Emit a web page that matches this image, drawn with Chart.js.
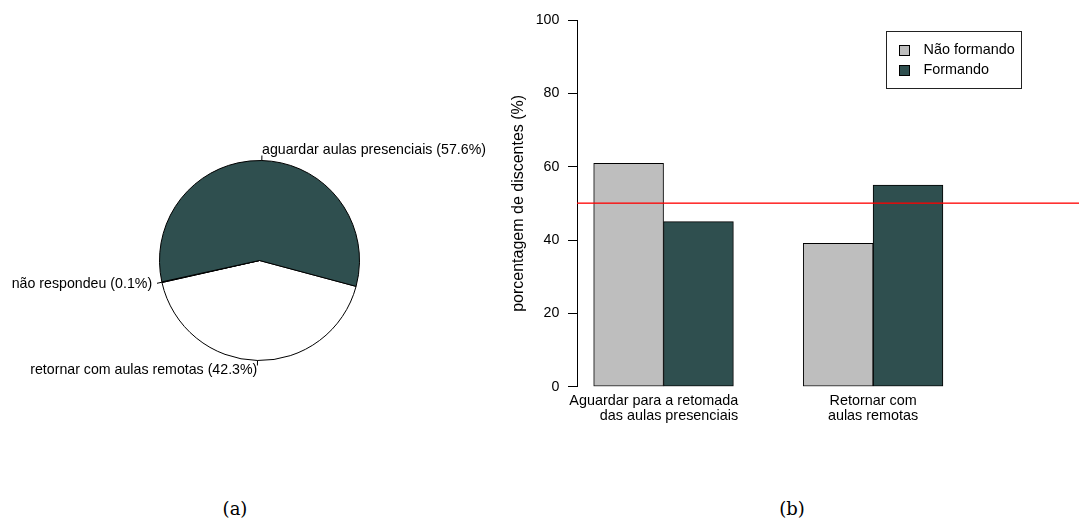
<!DOCTYPE html>
<html lang="pt">
<head>
    <meta charset="UTF-8">
    <title>Retomada das aulas</title>
    <script src="https://cdn.jsdelivr.net/npm/chart.js"></script>
    <style>
        body {
            margin: 0;
            width: 1079px;
            height: 521px;
            position: relative;
            overflow: hidden;
            background: #fff;
            font-family: "Liberation Sans", Arial, sans-serif;
        }
        #pie-box { position: absolute; left: 0; top: 100px; width: 519px; height: 321px; }
        #bar-box { position: absolute; left: 500px; top: 0; width: 579px; height: 440px; }
        .caption {
            position: absolute;
            top: 500px;
            font-family: "DejaVu Serif", serif;
            font-size: 18px;
            line-height: 18px;
            transform: translateX(-50%);
        }
    </style>
</head>
<body>
    <div id="pie-box"><canvas id="pieChart"></canvas></div>
    <div id="bar-box"><canvas id="barChart"></canvas></div>
    <div class="caption" style="left:235px">(a)</div>
    <div class="caption" style="left:792px">(b)</div>

    <script>
        // (a) pie data, in the order R draws it (counter-clockwise)
        const pieLabels = ['aguardar aulas presenciais', 'não respondeu', 'retornar com aulas remotas'];
        const pieValues = [57.6, 0.1, 42.3];
        const pieColors = ['#2f4f4f', '#1a1a1a', '#ffffff'];

        // (b) grouped bars
        const groupLabels = [['Aguardar para a retomada', 'das aulas presenciais'], ['Retornar com', 'aulas remotas']];
        const seriesNames = ['Não formando', 'Formando'];
        const naoFormando = [60.9, 39.1];
        const formando = [45.0, 55.0];
        const seriesColors = ['#bebebe', '#2f4f4f'];
        const yTicks = [0, 20, 40, 60, 80, 100];
        const refLine = 50;

        const FONT = '"Liberation Sans", Arial, sans-serif';
        Chart.defaults.font.family = FONT;
        Chart.defaults.color = '#000';

        // ---------- pie ----------
        // Chart.js goes clockwise, R goes counter-clockwise: reverse the order
        const pieLabelPlugin = {
            id: 'pieLabels',
            afterDatasetsDraw(chart) {
                const ctx = chart.ctx;
                const meta = chart.getDatasetMeta(0);
                const labels = chart.data.labels;
                const values = chart.data.datasets[0].data;
                ctx.save();
                ctx.font = '14.2px ' + FONT;
                ctx.fillStyle = '#000';
                ctx.strokeStyle = '#000';
                ctx.lineWidth = 1;
                ctx.textBaseline = 'middle';
                meta.data.forEach((arc, i) => {
                    const p = arc.getProps(['x', 'y', 'startAngle', 'endAngle', 'outerRadius'], true);
                    const a = (p.startAngle + p.endAngle) / 2;
                    const c = Math.cos(a), s = Math.sin(a), r = p.outerRadius;
                    ctx.beginPath();
                    ctx.moveTo(p.x + r * c, p.y + r * s);
                    ctx.lineTo(p.x + 1.05 * r * c, p.y + 1.05 * r * s);
                    ctx.stroke();
                    ctx.textAlign = c < 0 ? 'right' : 'left';
                    ctx.fillText(labels[i] + ' (' + values[i].toFixed(1) + '%)', p.x + 1.1 * r * c, p.y + 1.1 * r * s);
                });
                ctx.restore();
            }
        };

        new Chart(document.getElementById('pieChart'), {
            type: 'pie',
            data: {
                labels: pieLabels.slice().reverse(),
                datasets: [{
                    data: pieValues.slice().reverse(),
                    backgroundColor: pieColors.slice().reverse(),
                    borderColor: '#000',
                    borderWidth: 1
                }]
            },
            options: {
                responsive: true,
                maintainAspectRatio: false,
                animation: false,
                events: [],
                rotation: 105,
                radius: 100,
                layout: { padding: { top: 60, bottom: 60 } },
                plugins: { legend: { display: false }, tooltip: { enabled: false } }
            },
            plugins: [pieLabelPlugin]
        });

        // ---------- bars ----------
        // barplot(beside=TRUE) slots: one empty unit before each group
        const slot = (g, j) => 1.5 + g * (seriesNames.length + 1) + j;
        const seriesValues = [naoFormando, formando];
        const slotTicks = [];
        naoFormando.forEach((v, g) => seriesNames.forEach((n, j) => slotTicks.push(slot(g, j))));

        const barExtras = {
            id: 'barExtras',
            afterDatasetsDraw(chart) {
                const ctx = chart.ctx;
                const area = chart.chartArea;
                const x = chart.scales.x, y = chart.scales.y;
                ctx.save();

                // reference line (abline h = 50)
                const yr = y.getPixelForValue(refLine);
                ctx.fillStyle = '#ff0000';
                ctx.fillRect(area.left, Math.round(yr) - 0.5, area.right - area.left, 1.3);

                // group labels
                ctx.font = '14.4px ' + FONT;
                ctx.fillStyle = '#000';
                ctx.textBaseline = 'alphabetic';
                const y0 = y.getPixelForValue(0);
                groupLabels.forEach((lines, g) => {
                    const cx = x.getPixelForValue(slot(g, 0) + 0.5);
                    if (g === 0) {
                        ctx.textAlign = 'right';
                        lines.forEach((t, k) => ctx.fillText(t, cx + 74.6, y0 + 17.8 + k * 15));
                    } else {
                        ctx.textAlign = 'center';
                        lines.forEach((t, k) => ctx.fillText(t, cx, y0 + 17.8 + k * 15));
                    }
                });

                // legend box
                const bw = 135, bh = 57;
                const bx = Math.round(area.right - 58.3 - bw) + 0.5;
                const by = Math.round(area.top + 10.7) + 0.5;
                ctx.lineWidth = 1;
                ctx.strokeStyle = '#222';
                ctx.strokeRect(bx, by, bw, bh);
                ctx.textAlign = 'left';
                ctx.textBaseline = 'middle';
                chart.data.datasets.forEach((ds, i) => {
                    const ry = by + 18.5 + i * 19.6;
                    const sy = Math.round(ry - 5) + 0.5;
                    ctx.fillStyle = ds.backgroundColor;
                    ctx.fillRect(bx + 13, sy, 10, 10);
                    ctx.strokeStyle = '#000';
                    ctx.strokeRect(bx + 13, sy, 10, 10);
                    ctx.fillStyle = '#000';
                    ctx.fillText(ds.label, bx + 37, ry);
                });
                ctx.restore();
            }
        };

        new Chart(document.getElementById('barChart'), {
            type: 'bar',
            data: {
                datasets: seriesNames.map((name, j) => ({
                    label: name,
                    data: seriesValues[j].map((v, g) => ({ x: slot(g, j), y: v })),
                    backgroundColor: seriesColors[j],
                    borderColor: '#000',
                    borderWidth: 1,
                    borderSkipped: false,
                    grouped: false,
                    barPercentage: 1,
                    categoryPercentage: 1
                }))
            },
            options: {
                responsive: true,
                maintainAspectRatio: false,
                animation: false,
                events: [],
                layout: { padding: { top: 20, bottom: 53.3, left: 0, right: 0 } },
                plugins: { legend: { display: false }, tooltip: { enabled: false } },
                scales: {
                    x: {
                        type: 'linear',
                        display: false,
                        offset: false,
                        min: 0.761,
                        max: 7.948,
                        afterBuildTicks: (scale) => { scale.ticks = slotTicks.map(v => ({ value: v })); }
                    },
                    y: {
                        min: yTicks[0],
                        max: yTicks[yTicks.length - 1],
                        afterBuildTicks: (scale) => { scale.ticks = yTicks.map(v => ({ value: v })); },
                        afterFit: (scale) => { scale.width = 77; },
                        ticks: { padding: 8.7, font: { size: 14.2 }, color: '#000' },
                        grid: { drawOnChartArea: false, drawTicks: true, tickLength: 9, color: '#000', lineWidth: 1 },
                        border: { display: true, color: '#000', width: 1 },
                        title: {
                            display: true,
                            text: 'porcentagem de discentes (%)',
                            font: { size: 16 },
                            color: '#000',
                            padding: { top: 8.7, bottom: 0 }
                        }
                    }
                }
            },
            plugins: [barExtras]
        });
    </script>
</body>
</html>
